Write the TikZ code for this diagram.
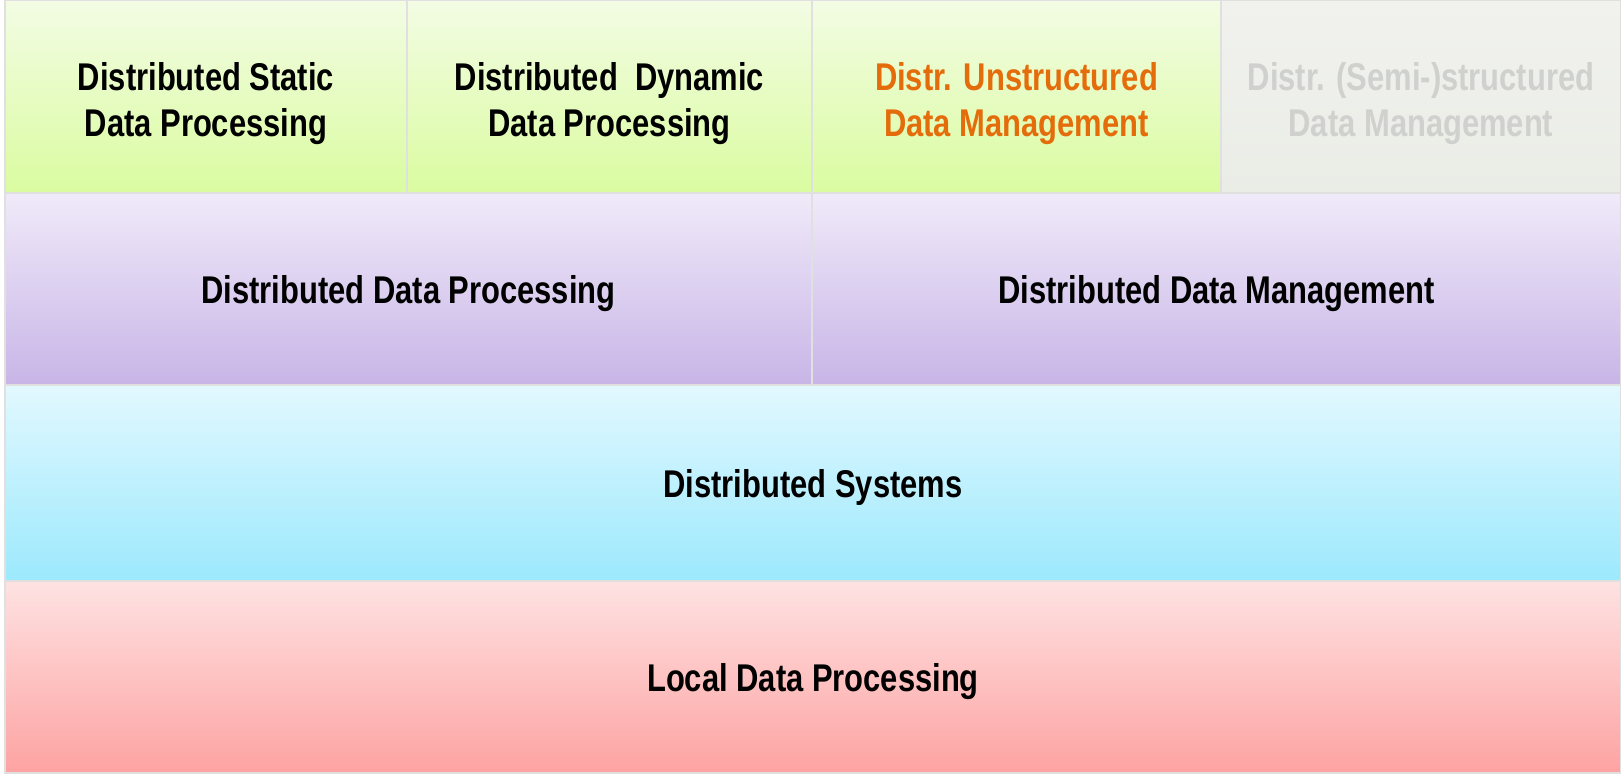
\documentclass[tikz,border=0pt]{standalone}
\usepackage{fontspec}
\setmainfont{Liberation Sans}[FakeStretch=0.8]
\usepackage{xcolor}
\definecolor{greenTop}{HTML}{F3FCE4}
\definecolor{greenBot}{HTML}{DAFCA0}
\definecolor{greyTop}{HTML}{F1F2EE}
\definecolor{greyBot}{HTML}{EAECE6}
\definecolor{greyText}{HTML}{D0D1CE}
\definecolor{purpleTop}{HTML}{F0EAF9}
\definecolor{purpleBot}{HTML}{C8B5E7}
\definecolor{cyanTop}{HTML}{E2F8FE}
\definecolor{cyanBot}{HTML}{9CE9FD}
\definecolor{redTop}{HTML}{FEE2E2}
\definecolor{redBot}{HTML}{FDA3A2}
\definecolor{orangeText}{HTML}{E46C0A}
\usetikzlibrary{positioning,shadows}
\tikzset{%
  layerBox/.style={%
    rectangle,
    draw=black!12,
    line width=0.4pt,
    inner sep=0pt,
    outer sep=0pt,
    align=center,
    text height=0.38cm,
    font=\fontsize{11}{13.1}\selectfont\bfseries,
    drop shadow={opacity=0.4,shadow xshift=0pt,shadow yshift=-1.5pt}
  },
  greenLayer/.style={layerBox, text height=0.89cm, top color=greenTop, bottom color=greenBot},
  greyLayer/.style={layerBox, text height=0.89cm, top color=greyTop, bottom color=greyBot, text=greyText},
  purpleLayer/.style={layerBox, top color=purpleTop, bottom color=purpleBot},
  cyanLayer/.style={layerBox, top color=cyanTop, bottom color=cyanBot},
  redLayer/.style={layerBox, top color=redTop, bottom color=redBot}
}

\begin{document}
\begin{tikzpicture}
  \useasboundingbox[fill=white] (0,0) rectangle (16.21,7.74);

  % top row
  \node[greenLayer, minimum width=4.02cm, minimum height=1.93cm, anchor=north west] (static) at (0.05,7.74) {Distributed Static\\Data Processing};
  \node[greenLayer, minimum width=4.05cm, minimum height=1.93cm, right=0pt of static] (dynamic) {Distributed\ \ Dynamic\\Data Processing};
  \node[greenLayer, minimum width=4.09cm, minimum height=1.93cm, right=0pt of dynamic, text=orangeText] (unstructured) {Distr. Unstructured\\Data Management};
  \node[greyLayer, minimum width=4.00cm, minimum height=1.93cm, right=0pt of unstructured] (semi) {Distr. (Semi-)structured\\Data Management};

  % middle rows
  \node[purpleLayer, minimum width=8.07cm, minimum height=1.92cm, anchor=north west] (processing) at (static.south west) {Distributed Data Processing};
  \node[purpleLayer, minimum width=8.09cm, minimum height=1.92cm, right=0pt of processing] (management) {Distributed Data Management};
  \node[cyanLayer, minimum width=16.16cm, minimum height=1.96cm, anchor=north west] (systems) at (processing.south west) {Distributed Systems};

  % bottom row
  \node[redLayer, minimum width=16.16cm, minimum height=1.92cm, anchor=north west] (local) at (systems.south west) {Local Data Processing};
\end{tikzpicture}
\end{document}
